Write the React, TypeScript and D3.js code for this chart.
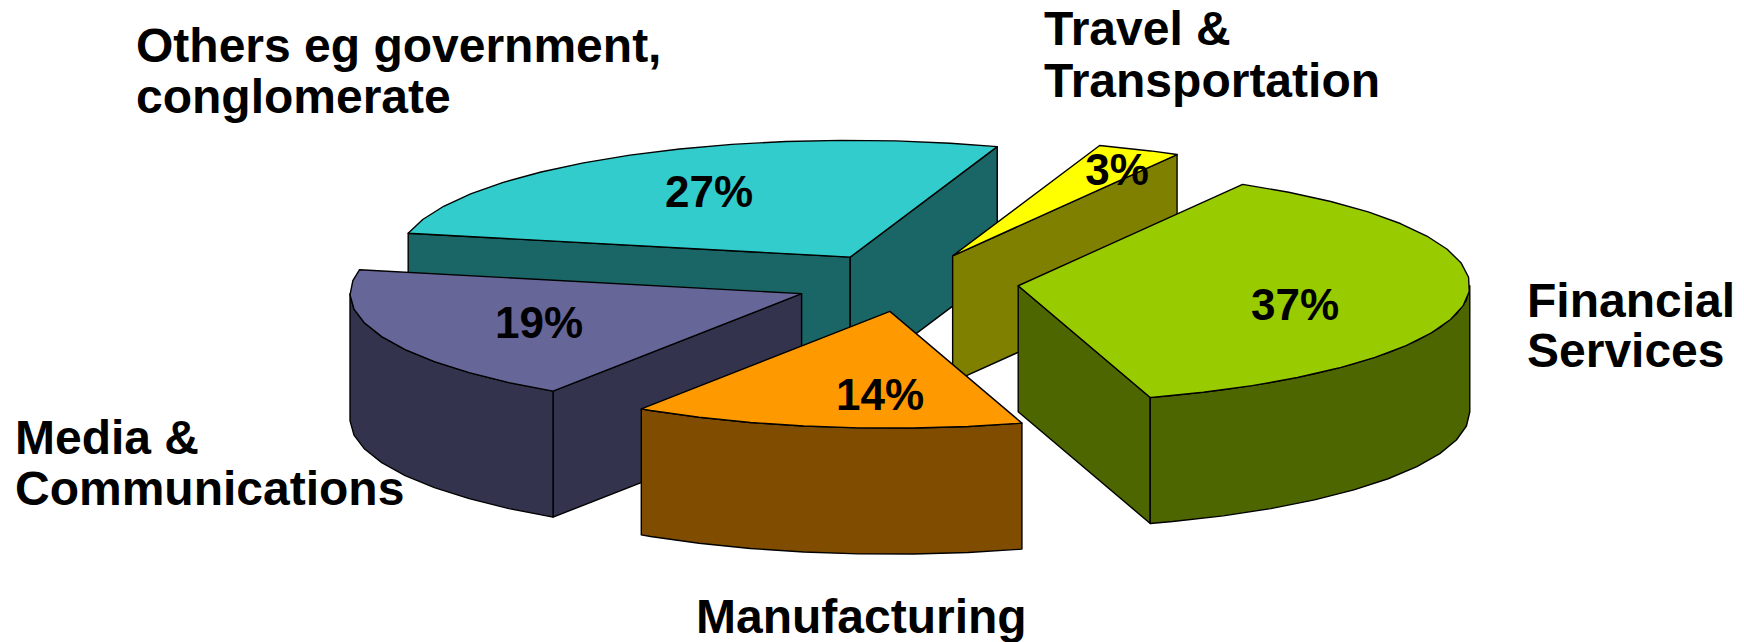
import React from "react";
import * as d3 from "d3";

// Industry shares, clockwise from the first slice
const sectors = ["Financial Services", "Manufacturing", "Media & Communications", "Others eg government, conglomerate", "Travel & Transportation"];
const shares = [37, 14, 19, 27, 3];
const topColors = ["#99CC00", "#FF9900", "#666699", "#33CCCC", "#FFFF00"];
const sideColors = ["#4D6600", "#804D00", "#33334D", "#1A6666", "#808000"];

// Back-to-front painting order (indices into the arrays above)
const paintOrder = [3, 4, 2, 0, 1];

// Pie geometry
const WIDTH = 1744;
const HEIGHT = 642;
const CX = 906;
const CY = 282.5;
const RX = 451.6;
const RY = 116.8;
const DEPTH = 126;
const EXPLODE = 0.25;
const START = (29.8 * Math.PI) / 180;
const ARC_STEP = (7 * Math.PI) / 180;

const FONT = "'Liberation Sans', Arial, sans-serif";

// Percentage label anchors: [x, baseline]
const percentAnchors: [number, number][] = [
  [1295, 320],
  [880, 410],
  [539, 338],
  [709, 207],
  [1117, 185],
];

// Category captions: [line, x, baseline]
const captions: [string, number, number][] = [
  ["Others eg government,", 136, 62],
  ["conglomerate", 136, 113],
  ["Travel &", 1044, 45],
  ["Transportation", 1044, 97],
  ["Financial", 1527, 317],
  ["Services", 1527, 367],
  ["Media &", 15, 454],
  ["Communications", 15, 505],
  ["Manufacturing", 696, 633],
];

const sx = d3.scaleLinear().domain([-1, 1]).range([-RX, RX]);
const sy = d3.scaleLinear().domain([-1, 1]).range([RY, -RY]);

const line = d3.line<[number, number]>();

const arcAngles = (a0: number, a1: number) => {
  const out = [a0];
  for (let a = a0 + ARC_STEP; a < a1 - 1e-6; a += ARC_STEP) out.push(a);
  out.push(a1);
  return out;
};

export default function App() {
  const arcs = d3
    .pie<number>()
    .sort(null)
    .startAngle(START)
    .endAngle(START + 2 * Math.PI)(shares);

  const slices = arcs.map((arc, i) => {
    const mid = (arc.startAngle + arc.endAngle) / 2;
    const ax = CX + sx(EXPLODE * Math.sin(mid));
    const ay = CY + sy(EXPLODE * Math.cos(mid));
    const rim = (a: number, drop = 0): [number, number] => [
      ax + sx(Math.sin(a)),
      ay + sy(Math.cos(a)) + drop,
    ];
    const apex: [number, number] = [ax, ay];
    const edge = (a: number): [number, number][] => [
      apex,
      rim(a),
      rim(a, DEPTH),
      [ax, ay + DEPTH],
    ];

    const faces: [number, number][][] = [];
    if (Math.sin(arc.startAngle) < 0) faces.push(edge(arc.startAngle));
    if (Math.sin(arc.endAngle) > 0) faces.push(edge(arc.endAngle));

    // The outer wall only shows on the near half of the ellipse
    const w0 = Math.max(arc.startAngle, Math.PI / 2);
    const w1 = Math.min(arc.endAngle, (3 * Math.PI) / 2);
    if (w1 > w0) {
      const ring = arcAngles(w0, w1);
      faces.push([
        ...ring.map((a) => rim(a)),
        ...ring.slice().reverse().map((a) => rim(a, DEPTH)),
      ]);
    }

    const top: [number, number][] = [
      apex,
      ...arcAngles(arc.startAngle, arc.endAngle).map((a) => rim(a)),
    ];
    return { i, faces, top };
  });

  return (
    <svg
      width={WIDTH}
      height={HEIGHT}
      viewBox={`0 0 ${WIDTH} ${HEIGHT}`}
      style={{ position: "absolute", left: 0, top: 0, background: "#fff" }}
      aria-label={sectors.join(", ")}
    >
      {paintOrder.map((idx) => {
        const s = slices[idx];
        return (
          <g key={sectors[idx]} stroke="#000" strokeWidth={1.4} strokeLinejoin="round">
            {s.faces.map((f, k) => (
              <path key={k} d={line(f) + "Z"} fill={sideColors[idx]} />
            ))}
            <path d={line(s.top) + "Z"} fill={topColors[idx]} />
          </g>
        );
      })}
      <g fontFamily={FONT} fontWeight={700} fontSize={44} textAnchor="middle" fill="#000">
        {shares.map((v, i) => (
          <text key={sectors[i]} x={percentAnchors[i][0]} y={percentAnchors[i][1]}>
            {v}%
          </text>
        ))}
      </g>
      <g fontFamily={FONT} fontWeight={700} fontSize={48} fill="#000">
        {captions.map(([t, x, y]) => (
          <text key={t} x={x} y={y}>
            {t}
          </text>
        ))}
      </g>
    </svg>
  );
}
